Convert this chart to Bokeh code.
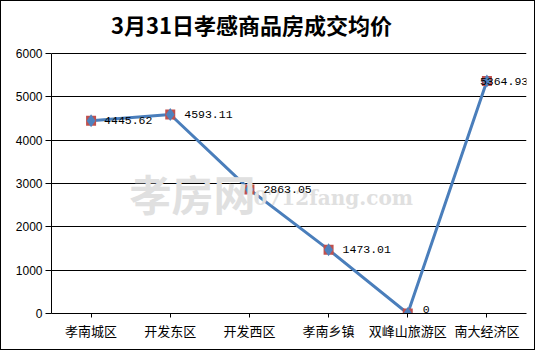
from bokeh.plotting import figure
from bokeh.models import ColumnDataSource, Label, LabelSet, FixedTicker
from bokeh.core.properties import value
from bokeh.embed import file_html
from bokeh.resources import INLINE

title_text = "3月31日孝感商品房成交均价"
categories = ["孝南城区", "开发东区", "开发西区", "孝南乡镇", "双峰山旅游区", "南大经济区"]
prices = [4445.62, 4593.11, 2863.05, 1473.01, 0, 5364.93]
price_labels = ["4445.62", "4593.11", "2863.05", "1473.01", "0", "5364.93"]
y_ticks = [0, 1000, 2000, 3000, 4000, 5000, 6000]
label_dx = [13, 14, 14, 14, 15, -7]
label_dy = [0, 0, 0, 0, 4, 0]

# frame reaches the top edge; the value axis itself stops at 6000
p = figure(width=535, height=350, x_range=categories, y_range=(0, 7200),
           output_backend="svg", toolbar_location=None,
           min_border_left=50, min_border_right=10, min_border_top=0, min_border_bottom=38)
p.styles = {"border": "1px solid black"}
p.x_range.range_padding = 0
p.outline_line_color = None
p.background_fill_color = "white"
p.border_fill_color = "white"

p.xgrid.grid_line_color = None
p.ygrid.grid_line_color = "black"
p.ygrid.grid_line_width = 1
p.yaxis.ticker = FixedTicker(ticks=y_ticks)
p.yaxis.bounds = (0, 6000)
for ax in (p.xaxis[0], p.yaxis[0]):
    ax.axis_line_color = "black"
    ax.major_tick_line_color = "black"
    ax.major_tick_out = 6
    ax.major_tick_in = 0
    ax.minor_tick_line_color = None
    ax.major_label_text_color = "black"
p.yaxis.major_label_text_font = "Liberation Sans"
p.yaxis.major_label_text_font_size = "12px"
p.yaxis.major_label_standoff = 3
p.xaxis.major_label_text_font = "Noto Sans CJK SC"
p.xaxis.major_label_text_font_size = "13px"
p.xaxis.major_label_standoff = 3
p.xaxis.major_tick_out = 4

src = ColumnDataSource(dict(x=categories, y=prices, t=price_labels, dx=label_dx, dy=label_dy))

# title
p.add_layout(Label(x=249, y=21, x_units="canvas", y_units="canvas", text=title_text,
                   text_align="center", text_baseline="middle",
                   text_font="Noto Sans CJK SC", text_font_style="bold",
                   text_font_size="22px", text_color="black"))

# watermark
p.add_layout(Label(x=127, y=190, x_units="canvas", y_units="canvas", text="孝房网",
                   text_font="Noto Sans CJK SC", text_font_size="42px",
                   text_color="#e0e0e0", text_font_style="bold", text_baseline="middle"))
p.add_layout(Label(x=251, y=195, x_units="canvas", y_units="canvas", text="0712fang.com",
                   text_font="DejaVu Serif", text_font_size="20px",
                   text_color="#e0e0e0", text_font_style="bold", text_baseline="middle"))

p.line("x", "y", source=src, line_color="#4a7ebb", line_width=3)
p.scatter("x", "y", source=src, marker="square", size=10, fill_color="#c0504d", line_color=None)
p.scatter("x", "y", source=src, marker="diamond", size=13, fill_color="#4f81bd", line_color=None)
p.add_layout(LabelSet(x="x", y="y", text="t", source=src, x_offset="dx", y_offset="dy",
                      text_baseline="middle", text_font=value("Liberation Mono"),
                      text_font_size="11.5px", text_color="black"))

open("out.html", "w").write(file_html(p, INLINE))
